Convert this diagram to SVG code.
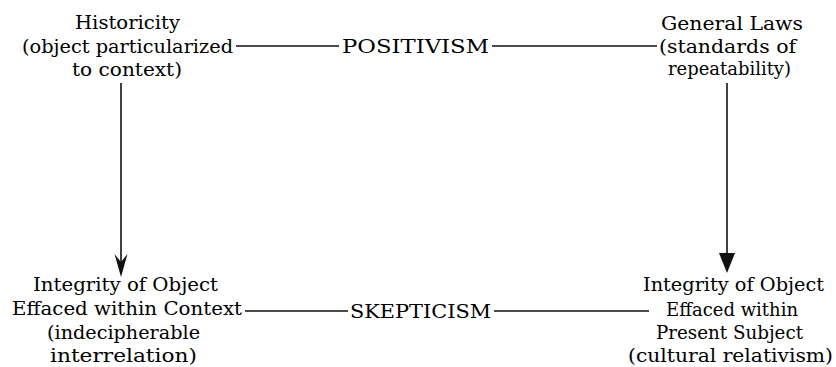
<svg xmlns="http://www.w3.org/2000/svg" width="836" height="367" viewBox="0 0 836 367">
<style>
text{font-family:"DejaVu Serif","Liberation Serif",serif;font-size:19px;fill:#000}
.ln{stroke:#111;stroke-width:1.6;fill:none}
.ah{fill:#111;stroke:none}
</style>
<rect width="836" height="367" fill="#fff"/>
<g id="historicity">
<text x="75" y="29" textLength="105" lengthAdjust="spacingAndGlyphs">Historicity</text>
<text x="22" y="53" textLength="211" lengthAdjust="spacingAndGlyphs">(object particularized</text>
<text x="72" y="76" textLength="110" lengthAdjust="spacingAndGlyphs">to context)</text>
</g>
<g id="general-laws">
<text x="661" y="30" textLength="142" lengthAdjust="spacingAndGlyphs">General Laws</text>
<text x="659" y="53" textLength="137" lengthAdjust="spacingAndGlyphs">(standards of</text>
<text x="668" y="75" textLength="123" lengthAdjust="spacingAndGlyphs">repeatability)</text>
</g>
<g id="positivism">
<text x="342" y="53" textLength="147" lengthAdjust="spacingAndGlyphs">POSITIVISM</text>
</g>
<g id="integrity-context">
<text x="33" y="291" textLength="185" lengthAdjust="spacingAndGlyphs">Integrity of Object</text>
<text x="12" y="315" textLength="230" lengthAdjust="spacingAndGlyphs">Effaced within Context</text>
<text x="47" y="339" textLength="153" lengthAdjust="spacingAndGlyphs">(indecipherable</text>
<text x="50" y="362" textLength="147" lengthAdjust="spacingAndGlyphs">interrelation)</text>
</g>
<g id="integrity-subject">
<text x="643" y="291" textLength="181" lengthAdjust="spacingAndGlyphs">Integrity of Object</text>
<text x="666" y="316" textLength="132" lengthAdjust="spacingAndGlyphs">Effaced within</text>
<text x="656" y="339" textLength="147" lengthAdjust="spacingAndGlyphs">Present Subject</text>
<text x="628" y="362" textLength="205" lengthAdjust="spacingAndGlyphs">(cultural relativism)</text>
</g>
<g id="skepticism">
<text x="350" y="318" textLength="141" lengthAdjust="spacingAndGlyphs">SKEPTICISM</text>
</g>
<g id="connectors">
<line class="ln" x1="236" y1="46" x2="339" y2="46"/>
<line class="ln" x1="492" y1="46" x2="657" y2="46"/>
<line class="ln" x1="245" y1="311" x2="348" y2="311"/>
<line class="ln" x1="494" y1="311" x2="649" y2="311"/>
<line class="ln" x1="121" y1="83" x2="121" y2="266"/>
<path class="ah" d="M121,277 L114.5,254 L121,262 L127.5,254 Z"/>
<line class="ln" x1="727" y1="83" x2="727" y2="256"/>
<path class="ah" d="M727,273 L719,253 L735,253 Z"/>
</g>
</svg>
